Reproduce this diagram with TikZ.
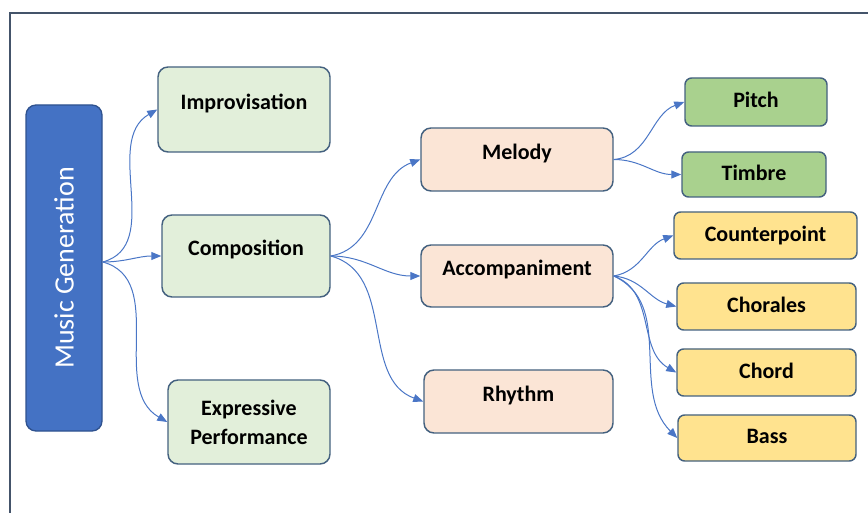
\documentclass[tikz,border=0pt]{standalone}
\usepackage{fontspec}
\setmainfont{Carlito}
\usetikzlibrary{arrows.meta}
\definecolor{mgblue}{HTML}{4472C4}
\definecolor{mgline}{HTML}{2F528F}
\definecolor{boxline}{HTML}{44617F}
\definecolor{lightgreen}{HTML}{E2EFDA}
\definecolor{peach}{HTML}{FBE5D6}
\definecolor{midgreen}{HTML}{A9D18E}
\definecolor{lightyellow}{HTML}{FFE38F}
\definecolor{arrowblue}{HTML}{4A76C6}
\definecolor{framecol}{HTML}{44546A}
\begin{document}
\begin{tikzpicture}[x=0.75pt,y=-0.75pt,
  wh/.style 2 args={minimum width=#1*0.75pt,minimum height=#2*0.75pt},
  box/.style={draw=boxline, line width=1.1pt, rounded corners=7.5pt, inner sep=0pt,
    font=\fontsize{16.5}{21.75}\selectfont\bfseries, text=black},
  smallbox/.style={box, rounded corners=5pt},
  txtup/.style={text height=12pt,text depth=12.5pt},
  txtmid/.style={text height=12pt,text depth=3.5pt},
  conn/.style={draw=arrowblue, line width=0.75pt, -{Triangle[length=7.5pt,width=6pt]}},
  framestyle/.style={draw=framecol, line width=1.5pt},
]
\useasboundingbox (0,0) rectangle (868,513);
\draw[framestyle] (10,513) -- (10,13) -- (868,13);

% root
\node[draw=mgline, fill=mgblue, line width=1pt, rounded corners=7.5pt, inner sep=0pt, wh={76}{326},
  text=white, font=\fontsize{21}{25}\selectfont] (mg) at (64,268) {\rotatebox{90}{Music Generation}};

% level 1
\node[box, fill=lightgreen, txtup, wh={172}{85}] (impro) at (244,109.5) {Improvisation};
\node[box, fill=lightgreen, txtup, wh={168}{82}] (comp) at (246,256) {Composition};
\node[box, fill=lightgreen, wh={162}{84}, align=center] (expr) at (249,422) {Expressive\\Performance};

% level 2
\node[box, fill=peach, txtup, wh={192}{63}] (melody) at (517,159.5) {Melody};
\node[box, fill=peach, txtup, wh={192}{62}] (accomp) at (517,276) {Accompaniment};
\node[box, fill=peach, txtup, wh={189}{63}] (rhythm) at (518.5,401.5) {Rhythm};

% level 3
\node[smallbox, fill=midgreen, txtmid, wh={142}{48}] (pitch) at (756,102) {Pitch};
\node[smallbox, fill=midgreen, txtmid, wh={144}{45}] (timbre) at (754,174.5) {Timbre};
\node[smallbox, fill=lightyellow, txtmid, wh={183}{47}] (counter) at (765.5,235.5) {Counterpoint};
\node[smallbox, fill=lightyellow, txtmid, wh={179}{47}] (chorales) at (766.5,306.5) {Chorales};
\node[smallbox, fill=lightyellow, txtmid, wh={179}{47}] (chord) at (766.5,372.5) {Chord};
\node[smallbox, fill=lightyellow, txtmid, wh={178}{46}] (bass) at (767,438) {Bass};

% connectors
\draw[conn] ([yshift=4.5pt]mg.east) to[out=15,in=210] (impro.west);
\draw[conn] ([yshift=4.5pt]mg.east) to[out=0,in=180] (comp.west);
\draw[conn] ([yshift=4.5pt]mg.east) to[out=-15,in=150] (expr.west);

\draw[conn] (comp.east) to[out=10,in=200] (melody.west);
\draw[conn] (comp.east) to[out=0,in=180] (accomp.west);
\draw[conn] (comp.east) to[out=-15,in=160] (rhythm.west);

\draw[conn] (melody.east) to[out=5,in=200] (pitch.west);
\draw[conn] (melody.east) to[out=0,in=180] (timbre.west);

\draw[conn] (accomp.east) to[out=10,in=200] (counter.west);
\draw[conn] (accomp.east) to[out=-5,in=165] (chorales.west);
\draw[conn] (accomp.east) to[out=-20,in=150] (chord.west);
\draw[conn] (accomp.east) to[out=-25,in=135] (bass.west);
\end{tikzpicture}
\end{document}
